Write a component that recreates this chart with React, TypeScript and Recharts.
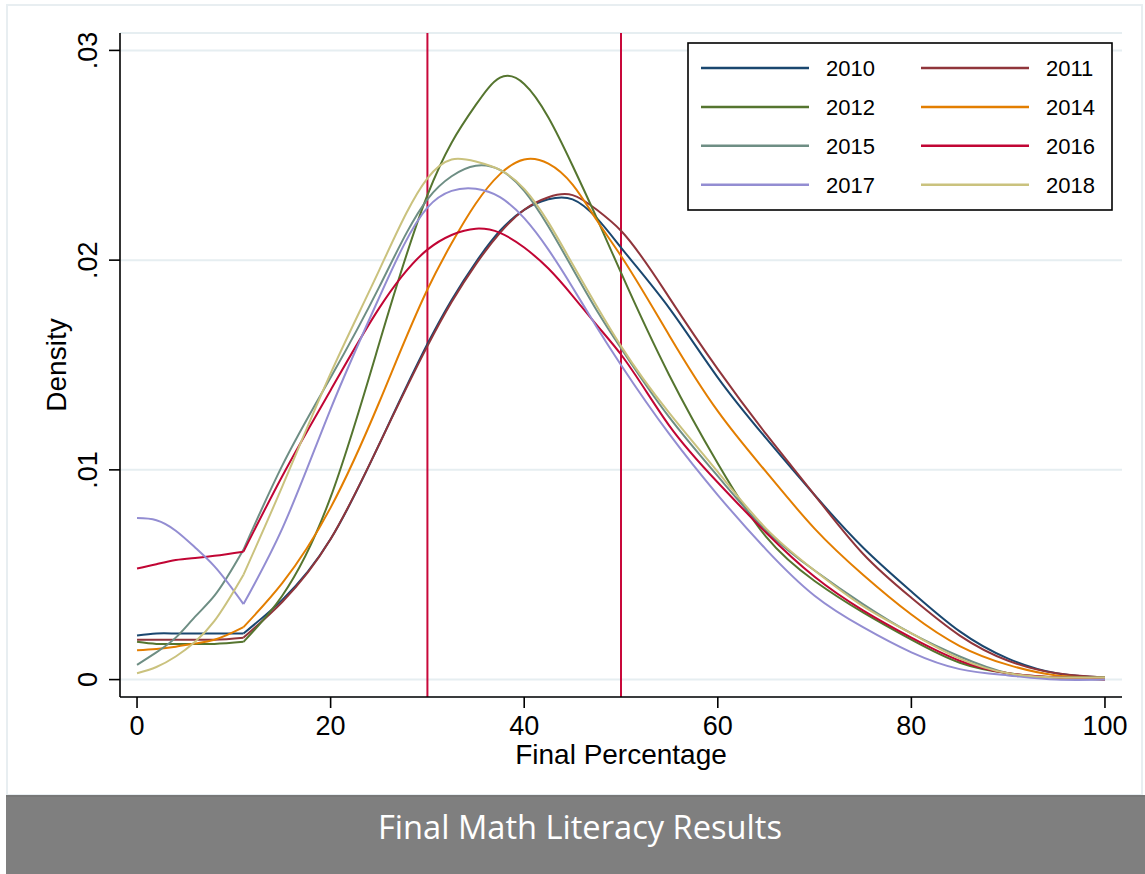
import { LineChart, Line, XAxis, YAxis, CartesianGrid, ReferenceLine } from "recharts";

const xValues = [0, 2, 4, 6, 8, 11, 15, 20, 25, 30, 32.5, 35, 37.5, 40, 42.5, 45, 47.5, 50, 55, 60, 65, 70, 75, 80, 85, 90, 95, 100];
// the curves bend sharply here (left part flat, right part bell shaped)
const kinkX = 11;

const d2010 = [0.0021, 0.0022, 0.0022, 0.0022, 0.0022, 0.0022, 0.0038, 0.0067, 0.0112, 0.016, 0.0181, 0.0199, 0.0214, 0.0224, 0.0229, 0.0229, 0.022, 0.0206, 0.0177, 0.0144, 0.0115, 0.0088, 0.0063, 0.0042, 0.0023, 0.001, 0.0003, 0.0001];
const d2011 = [0.0019, 0.0019, 0.0019, 0.0019, 0.0019, 0.002, 0.0037, 0.0067, 0.0112, 0.0159, 0.018, 0.0198, 0.0213, 0.0224, 0.023, 0.0231, 0.0224, 0.0214, 0.0182, 0.0148, 0.0117, 0.0088, 0.006, 0.0039, 0.0021, 0.0009, 0.0003, 0.0001];
const d2012 = [0.0018, 0.0017, 0.0017, 0.0017, 0.0017, 0.0018, 0.004, 0.0087, 0.016, 0.0231, 0.0256, 0.0274, 0.0287, 0.0284, 0.0268, 0.0245, 0.022, 0.0194, 0.0145, 0.0103, 0.0068, 0.0047, 0.0032, 0.0019, 0.0008, 0.0003, 0.0001, 0.0];
const d2014 = [0.0014, 0.00146, 0.00157, 0.00172, 0.0019, 0.0025, 0.0046, 0.0082, 0.0132, 0.0186, 0.0208, 0.0227, 0.0241, 0.0248, 0.0246, 0.0236, 0.0219, 0.0202, 0.0164, 0.0128, 0.0099, 0.0072, 0.005, 0.0031, 0.0016, 0.0007, 0.0002, 0.0001];
const d2015 = [0.0007, 0.0013, 0.002, 0.003, 0.004, 0.0062, 0.0102, 0.0144, 0.0187, 0.0229, 0.024, 0.0245, 0.0243, 0.0233, 0.0216, 0.0196, 0.0176, 0.0158, 0.0125, 0.0097, 0.0071, 0.0052, 0.0036, 0.0022, 0.0011, 0.0003, 0.0001, 0.0001];
const d2016 = [0.0053, 0.0055, 0.0057, 0.0058, 0.0059, 0.0061, 0.0097, 0.0138, 0.0177, 0.0205, 0.0212, 0.0215, 0.0213, 0.0206, 0.0196, 0.0183, 0.0169, 0.0155, 0.0121, 0.0094, 0.007, 0.0049, 0.0033, 0.002, 0.0009, 0.0003, 0.0001, 0.0];
const d2017 = [0.0077, 0.0076, 0.0071, 0.0063, 0.0054, 0.0036, 0.0072, 0.0129, 0.0182, 0.0225, 0.0233, 0.0234, 0.023, 0.022, 0.0205, 0.0187, 0.0168, 0.015, 0.0117, 0.0088, 0.0062, 0.004, 0.0025, 0.0013, 0.0005, 0.0002, 0.0, 0.0];
const d2018 = [0.0003, 0.0006, 0.0011, 0.0018, 0.0028, 0.005, 0.0092, 0.0146, 0.0195, 0.0239, 0.0248, 0.0247, 0.0243, 0.0234, 0.0218, 0.0198, 0.0178, 0.0159, 0.0127, 0.0099, 0.0072, 0.0052, 0.0035, 0.0022, 0.001, 0.0003, 0.0001, 0.0001];

const years = ["2010", "2011", "2012", "2014", "2015", "2016", "2017", "2018"];
const colors = ["#1a476f", "#90353b", "#55752f", "#e37e00", "#6e8e84", "#c10534", "#938dd2", "#cac27e"];
const seriesValues = [d2010, d2011, d2012, d2014, d2015, d2016, d2017, d2018];

const xTicks = [0, 20, 40, 60, 80, 100];
const yTicks = [0, 0.01, 0.02, 0.03];
const yTickLabels = ["0", ".01", ".02", ".03"];
const cutoffs = [30, 50];

// each curve is split at the kink: "L" part left of it, "R" part right of it
const data = xValues.map((x, i) => {
  const row: Record<string, number> = { x };
  years.forEach((yr, k) => {
    if (x <= kinkX) row[yr + "L"] = seriesValues[k][i];
    if (x >= kinkX) row[yr + "R"] = seriesValues[k][i];
  });
  return row;
});

// natural cubic spline in x (d3's curveNatural works per index, which kinks on uneven spacing)
function naturalX(context: any) {
  let xs: number[] = [];
  let ys: number[] = [];
  let line: number | undefined;
  return {
    areaStart() {
      line = 0;
    },
    areaEnd() {
      line = NaN;
    },
    lineStart() {
      xs = [];
      ys = [];
    },
    lineEnd() {
      const n = xs.length;
      if (n) {
        if (line) context.lineTo(xs[0], ys[0]);
        else context.moveTo(xs[0], ys[0]);
        if (n === 2) {
          context.lineTo(xs[1], ys[1]);
        } else if (n > 2) {
          const h: number[] = [];
          for (let i = 0; i < n - 1; i++) h[i] = xs[i + 1] - xs[i];
          const m = new Array(n).fill(0);
          const b: number[] = [];
          const d: number[] = [];
          for (let i = 1; i < n - 1; i++) {
            b[i] = 2 * (h[i - 1] + h[i]);
            d[i] = 6 * ((ys[i + 1] - ys[i]) / h[i] - (ys[i] - ys[i - 1]) / h[i - 1]);
          }
          for (let i = 2; i < n - 1; i++) {
            const w = h[i - 1] / b[i - 1];
            b[i] -= w * h[i - 1];
            d[i] -= w * d[i - 1];
          }
          m[n - 2] = d[n - 2] / b[n - 2];
          for (let i = n - 3; i >= 1; i--) m[i] = (d[i] - h[i] * m[i + 1]) / b[i];
          for (let i = 0; i < n - 1; i++) {
            const s = (ys[i + 1] - ys[i]) / h[i];
            const d0 = s - (h[i] * (2 * m[i] + m[i + 1])) / 6;
            const d1 = s + (h[i] * (m[i] + 2 * m[i + 1])) / 6;
            context.bezierCurveTo(
              xs[i] + h[i] / 3,
              ys[i] + (d0 * h[i]) / 3,
              xs[i + 1] - h[i] / 3,
              ys[i + 1] - (d1 * h[i]) / 3,
              xs[i + 1],
              ys[i + 1]
            );
          }
        }
      }
      if (line || (line !== 0 && n === 1)) context.closePath();
      line = 1 - (line as number);
    },
    point(x: number, y: number) {
      xs.push(+x);
      ys.push(+y);
    },
  };
}

const FONT = "'Liberation Sans', Arial, Helvetica, sans-serif";

const YTick = (props: any) => {
  const { x, y, payload } = props;
  const idx = yTicks.indexOf(payload.value);
  const tx = x - 10;
  return (
    <text x={tx} y={y} transform={`rotate(-90, ${tx}, ${y})`} textAnchor="middle" fontSize={27} fontFamily={FONT} fill="#000">
      {idx >= 0 ? yTickLabels[idx] : String(payload.value)}
    </text>
  );
};

const XTick = (props: any) => {
  const { x, y, payload } = props;
  return (
    <text x={x} y={y + 25} textAnchor="middle" fontSize={27} fontFamily={FONT} fill="#000">
      {payload.value}
    </text>
  );
};

const yTitle = (props: any) => {
  const vb = props.viewBox || { x: 0, y: 33, width: 120, height: 664 };
  const tx = vb.x + 66;
  const ty = vb.y + vb.height / 2;
  return (
    <text x={tx} y={ty} transform={`rotate(-90, ${tx}, ${ty})`} textAnchor="middle" fontSize={28} fontFamily={FONT} fill="#000">
      Density
    </text>
  );
};

const xTitle = (props: any) => {
  const vb = props.viewBox || { x: 120, y: 697, width: 1002, height: 98 };
  return (
    <text x={vb.x + vb.width / 2} y={vb.y + 67} textAnchor="middle" fontSize={28} fontFamily={FONT} fill="#000">
      Final Percentage
    </text>
  );
};

function LegendBox() {
  return (
    <svg width={426} height={169} style={{ position: "absolute", left: 687, top: 42 }}>
      <rect x={1} y={1} width={424} height={167} fill="#fff" stroke="#000" strokeWidth={1.6} />
      {years.map((yr, i) => {
        const col = i % 2;
        const row = Math.floor(i / 2);
        const cy = 26 + row * 38.9;
        const lx = col ? 234 : 14;
        return (
          <g key={yr}>
            <line x1={lx} x2={lx + 108} y1={cy} y2={cy} stroke={colors[i]} strokeWidth={2.5} />
            <text x={lx + 125} y={cy + 8} fontSize={22} fontFamily={FONT} fill="#000">
              {yr}
            </text>
          </g>
        );
      })}
    </svg>
  );
}

export default function App() {
  return (
    <div style={{ position: "absolute", left: 0, top: 0, width: 1145, height: 874, background: "#fff", overflow: "hidden" }}>
      <div style={{ position: "absolute", left: 6, top: 4, width: 1137, height: 792, border: "2px solid #e8eef1", boxSizing: "border-box" }} />
      <div style={{ position: "absolute", left: 0, top: 0 }}>
        <LineChart width={1145} height={795} data={data} margin={{ top: 33, right: 23, bottom: 0, left: 0 }}>
          <CartesianGrid vertical={false} stroke="#e6eef1" strokeWidth={2} />
          <XAxis
            dataKey="x"
            type="number"
            domain={[-1.76, 101.76]}
            ticks={xTicks}
            allowDataOverflow
            height={98}
            tickSize={11}
            stroke="#000"
            strokeWidth={1.6}
            tick={<XTick />}
            label={xTitle}
          />
          <YAxis
            type="number"
            domain={[-0.00083, 0.03083]}
            ticks={yTicks}
            allowDataOverflow
            width={120}
            tickSize={11}
            stroke="#000"
            strokeWidth={1.6}
            tick={<YTick />}
            label={yTitle}
          />
          {cutoffs.map((c) => (
            <ReferenceLine key={c} x={c} stroke="#c8083a" strokeWidth={2} />
          ))}
          {years.map((yr, i) => (
            <Line
              key={yr + "L"}
              type={naturalX as any}
              dataKey={yr + "L"}
              stroke={colors[i]}
              strokeWidth={2}
              dot={false}
              activeDot={false}
              isAnimationActive={false}
            />
          ))}
          {years.map((yr, i) => (
            <Line
              key={yr + "R"}
              type={naturalX as any}
              dataKey={yr + "R"}
              stroke={colors[i]}
              strokeWidth={2}
              dot={false}
              activeDot={false}
              isAnimationActive={false}
            />
          ))}
        </LineChart>
      </div>
      <LegendBox />
      <div style={{ position: "absolute", left: 6, top: 795, width: 1139, height: 79, background: "#7f7f7f", borderTop: "2px solid #777" }}>
        <svg width={1139} height={79}>
          <text x={574} y={42} textAnchor="middle" fontSize={33} fontFamily="'Open Sans', 'Noto Sans', sans-serif" fill="#fff" textLength={404} lengthAdjust="spacingAndGlyphs">
            Final Math Literacy Results
          </text>
        </svg>
      </div>
    </div>
  );
}
